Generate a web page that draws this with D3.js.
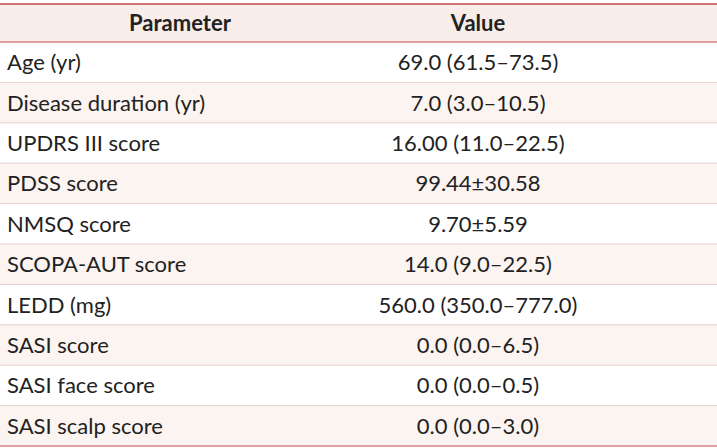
<!DOCTYPE html>
<html><head><meta charset="utf-8">
<script src="https://cdn.jsdelivr.net/npm/d3@7"></script>
<style>body{margin:0;background:#fff}</style>
</head><body><div id="chart"></div>
<script>
let columns = ['Parameter', 'Value'];
let parameters = ['Age (yr)', 'Disease duration (yr)', 'UPDRS III score', 'PDSS score', 'NMSQ score',
    'SCOPA-AUT score', 'LEDD (mg)', 'SASI score', 'SASI face score', 'SASI scalp score'];
let values = ['69.0 (61.5\u201373.5)', '7.0 (3.0\u201310.5)', '16.00 (11.0\u201322.5)', '99.44\u00b130.58',
    '9.70\u00b15.59', '14.0 (9.0\u201322.5)', '560.0 (350.0\u2013777.0)', '0.0 (0.0\u20136.5)',
    '0.0 (0.0\u20130.5)', '0.0 (0.0\u20133.0)'];

let width = 717, height = 448;
let top_y = 4, header_h = 38, row_h = 40.4;
let svg = d3.select('#chart').append('svg').attr('width', width).attr('height', height);
let font = "Lato, 'Noto Sans', sans-serif";

// header
svg.append('rect').attr('x', 0).attr('y', top_y).attr('width', width).attr('height', header_h).attr('fill', '#f8ede8');
let col_x = [180, 478];
columns.forEach((c, i) => {
    svg.append('text').attr('x', col_x[i]).attr('y', top_y + header_h / 2 + 8)
        .attr('text-anchor', 'middle').attr('font-family', font).attr('font-weight', 'bold')
        .attr('font-size', 22).attr('fill', '#222').text(c);
});

let y = d3.scaleBand().domain(d3.range(parameters.length))
    .range([top_y + header_h, top_y + header_h + row_h * parameters.length]);

let rows = svg.selectAll('g.row').data(parameters).join('g').attr('class', 'row')
    .attr('transform', (d, i) => `translate(0,${y(i)})`);
rows.append('rect').attr('width', width).attr('height', y.bandwidth())
    .attr('fill', (d, i) => i % 2 ? '#fbf4f1' : '#fff');
rows.append('text').attr('x', 7).attr('y', y.bandwidth() / 2 + 8)
    .attr('font-family', font).attr('font-size', 22).attr('fill', '#222').text(d => d);
rows.append('text').attr('x', col_x[1]).attr('y', y.bandwidth() / 2 + 8).attr('text-anchor', 'middle')
    .attr('font-family', font).attr('font-size', 22).attr('fill', '#222').text((d, i) => values[i]);
rows.filter((d, i) => i > 0).append('line').attr('x1', 0).attr('x2', width)
    .attr('stroke', '#e8cfca').attr('stroke-width', 1);

svg.append('line').attr('x1', 0).attr('x2', width).attr('y1', top_y).attr('y2', top_y)
    .attr('stroke', '#c8454f').attr('stroke-width', 1.5);
svg.append('line').attr('x1', 0).attr('x2', width).attr('y1', top_y + header_h).attr('y2', top_y + header_h)
    .attr('stroke', '#c8454f').attr('stroke-width', 1.2);
let bottom = y.range()[1];
svg.append('line').attr('x1', 0).attr('x2', width).attr('y1', bottom).attr('y2', bottom)
    .attr('stroke', '#c8454f').attr('stroke-width', 1.2);
</script></body></html>
